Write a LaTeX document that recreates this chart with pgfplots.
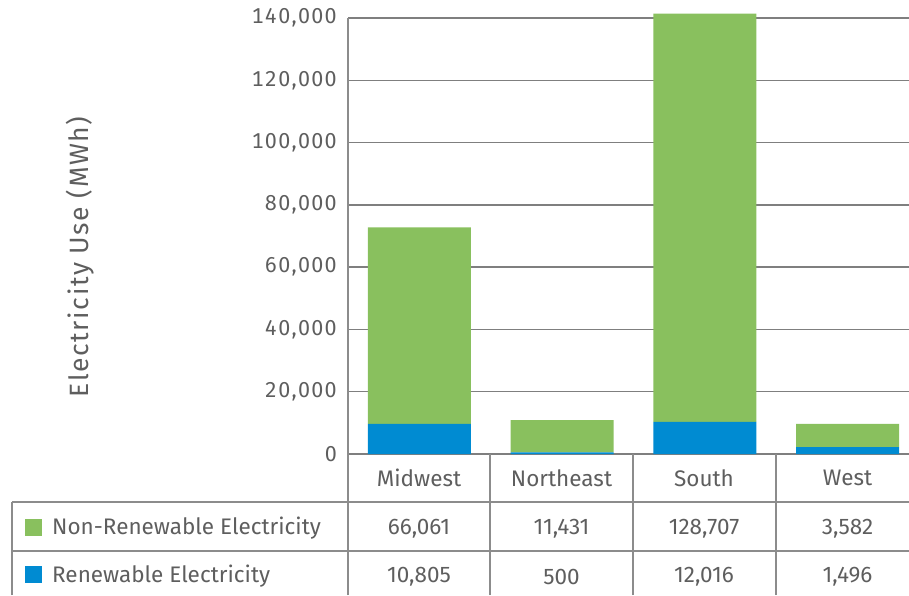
\documentclass[border=0pt]{standalone}
\usepackage{fontspec}
\setmainfont{Fira Sans}
\usepackage{pgfplots}
\pgfplotsset{compat=1.18}
\definecolor{nrgreen}{HTML}{89C05E}
\definecolor{rblue}{HTML}{008BD2}
\definecolor{txtgrey}{HTML}{5E5E5E}
\definecolor{gridgrey}{HTML}{7F7F7F}
\definecolor{tblgrey}{HTML}{8C8C8C}
\newcommand\tickfont{\fontsize{21.5}{26}\selectfont\addfontfeatures{Numbers=Monospaced,LetterSpace=6}}
\newcommand\tblfont{\fontsize{22.5}{27}\selectfont}

\begin{document}
\begin{tikzpicture}[x=1pt,y=1pt]
\useasboundingbox (0,0) rectangle (909,595);
\begin{axis}[
  at={(348pt,141pt)}, anchor=south west,
  scale only axis, width=561pt, height=436pt,
  xmin=-0.5, xmax=3.43, ymin=0, ymax=140000,
  ybar stacked, bar width=0.72,
  xtick=\empty,
  ytick={0,20000,40000,60000,80000,100000,120000,140000},
  yticklabels={0,{20,000},{40,000},{60,000},{80,000},{100,000},{120,000},{140,000}},
  scaled y ticks=false,
  axis line style={draw=none},
  major tick length=0pt,
  ymajorgrids=true, grid style={gridgrey,line width=1.3pt},
  yticklabel style={font=\tickfont, text=txtgrey,
                    anchor=east, inner sep=0pt, xshift=-11pt},
  ylabel={Electricity Use (MWh)},
  ylabel style={font=\fontsize{26.5}{31}\selectfont\addfontfeatures{LetterSpace=6}, text=txtgrey,
                at={(axis description cs:-0.478,0.452)}, anchor=center},
  clip=false,
]
\addplot[fill=rblue, draw=none] coordinates {(0,9700) (1,500) (2,10300) (3,2200)};
\addplot[fill=nrgreen, draw=none] coordinates {(0,63100) (1,10400) (2,131100) (3,7500)};
\end{axis}

% table beneath the bars
\draw[tblgrey, line width=1.2pt] (348,0) -- (348,577);
\draw[tblgrey, line width=1.2pt] (12,93) -- (909,93) (12,44) -- (909,44) (12,0) -- (12,93);
\foreach \x in {490,633,776} \draw[tblgrey, line width=1.2pt] (\x,0) -- (\x,141);

\begin{scope}[every node/.style={font=\tblfont, text=txtgrey, inner sep=0pt}]
\node at (419,117) {Midwest};
\node at (561.5,117) {Northeast};
\node at (704,117) {South};
\node at (847.5,117) {West};

\fill[nrgreen] (25,59) rectangle (42,76);
\node[anchor=west] at (52,66.5) {Non-Renewable Electricity};
\node at (419,66.5) {66,061};
\node at (561.5,66.5) {11,431};
\node at (704,66.5) {128,707};
\node at (847.5,66.5) {3,582};

\fill[rblue] (25,12) rectangle (42,29);
\node[anchor=west] at (52,18.5) {Renewable Electricity};
\node at (419,18.5) {10,805};
\node at (561.5,18.5) {500};
\node at (704,18.5) {12,016};
\node at (847.5,18.5) {1,496};
\end{scope}
\end{tikzpicture}
\end{document}
